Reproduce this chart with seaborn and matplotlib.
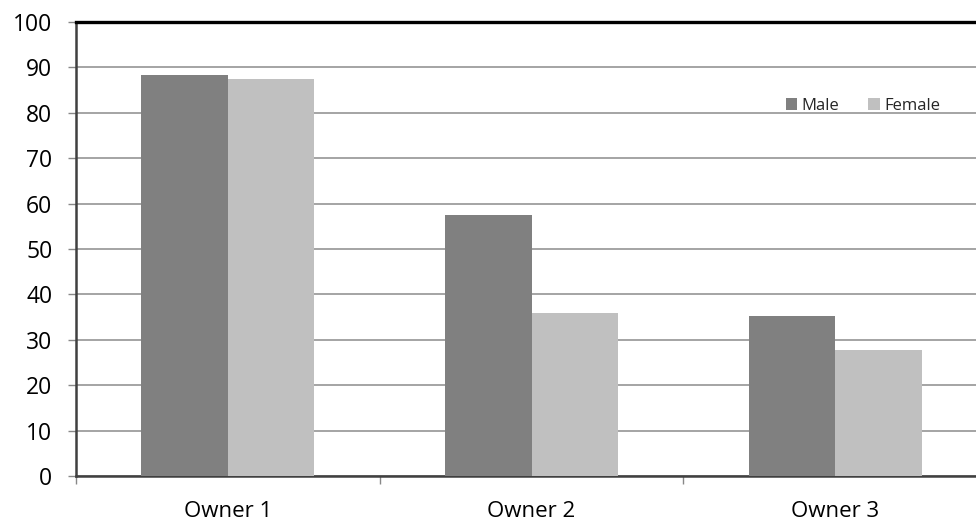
import matplotlib
matplotlib.use("Agg")
import matplotlib.pyplot as plt
import seaborn as sns
import pandas as pd
import numpy as np

categories = ["Owner 1", "Owner 2", "Owner 3"]
male = [88.3, 57.5, 35.2]
female = [87.4, 35.9, 27.7]
series = ["Male", "Female"]
yticks = [0, 10, 20, 30, 40, 50, 60, 70, 80, 90, 100]

df = pd.DataFrame({
    "owner": categories * 2,
    "value": male + female,
    "sex": [series[0]] * 3 + [series[1]] * 3,
})

sns.set_theme(style="white")
plt.rcParams['font.family'] = ['Open Sans', 'DejaVu Sans']

fig = plt.figure(figsize=(9.76, 5.23), dpi=100)
ax = fig.add_axes([76/976, 1-476/523, 911/976, 454/523])

sns.barplot(data=df, x="owner", y="value", hue="sex", order=categories,
            hue_order=series, palette=["#808080", "#c0c0c0"], width=0.57,
            saturation=1, ax=ax, zorder=3, linewidth=0)

ax.set_ylim(0, 100)
ax.set_xlim(-0.5, 2.5)
ax.set_yticks(yticks)
ax.set_yticklabels([str(t) for t in yticks], fontsize=16.5, color="black")
ax.yaxis.grid(True, color="#8c8c8c", linewidth=1.1, zorder=0)
ax.set_axisbelow(True)
ax.set_xlabel("")
ax.set_ylabel("")
for lab in ax.get_xticklabels():
    lab.set_fontsize(16)
    lab.set_color("black")
ax.tick_params(axis="x", which="major", length=0, pad=18)
ax.set_xticks([-0.5, 0.5, 1.5, 2.5], minor=True)
ax.tick_params(axis="x", which="minor", length=6, color="#888888", width=1, direction="out", bottom=True)
ax.tick_params(axis="y", length=6, color="#888888", width=1, direction="out", left=True, pad=11)

for side in ["left", "bottom"]:
    ax.spines[side].set_color("#404040")
    ax.spines[side].set_linewidth(1.8)
ax.spines["top"].set_color("black")
ax.spines["top"].set_linewidth(2.4)
ax.spines["right"].set_visible(False)

leg = ax.legend(loc="center left", bbox_to_anchor=((779 - 76) / 911, 0.815),
                ncol=2, frameon=False, fontsize=12, handlelength=0.7, handleheight=0.7,
                handletextpad=0.25, columnspacing=1.75, borderaxespad=0)

fig.savefig("out.png", dpi=100)
